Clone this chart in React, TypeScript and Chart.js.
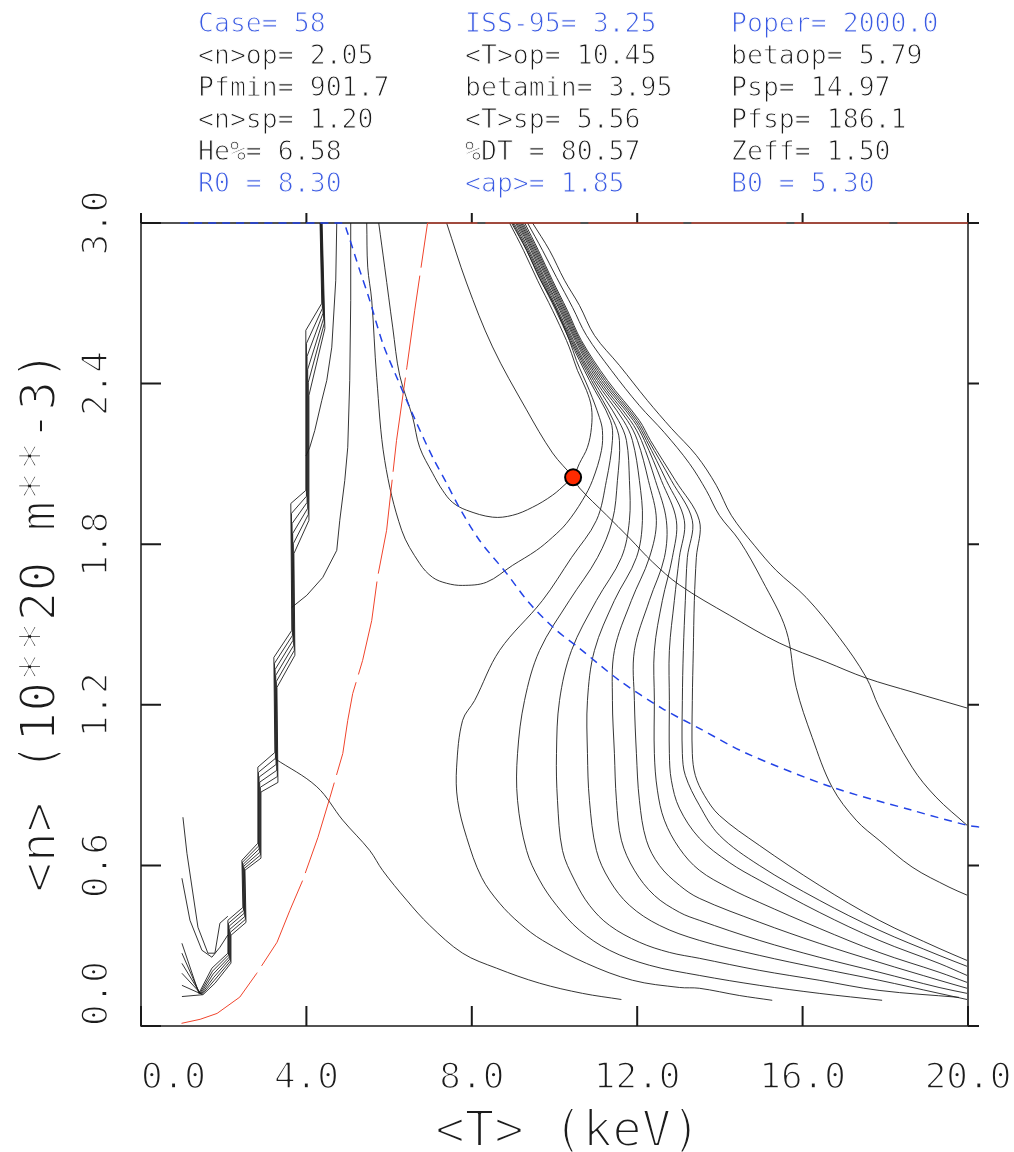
import React, { useEffect, useRef } from 'react';
import { Chart, registerables } from 'chart.js';

Chart.register(...registerables);

type Pt = [number, number];

// ---- axes ----
const xTickValues = [0, 4, 8, 12, 16, 20];
const xTickLabels = ['0.0', '4.0', '8.0', '12.0', '16.0', '20.0'];
const yTickValues = [0, 0.6, 1.2, 1.8, 2.4, 3.0];
const yTickLabels = ['0.0', '0.6', '1.2', '1.8', '2.4', '3.0'];
const xTitle = '<T> (keV)';
const yTitle = '<n> (10**20 m**-3)';

// ---- run summary printed above the plot (3 columns, 6 rows) ----
const headerCol1 = ['Case= 58', '<n>op= 2.05', 'Pfmin= 901.7', '<n>sp= 1.20', 'He%= 6.58', 'R0 = 8.30'];
const headerCol2 = ['ISS-95= 3.25', '<T>op= 10.45', 'betamin= 3.95', '<T>sp= 5.56', '%DT = 80.57', '<ap>= 1.85'];
const headerCol3 = ['Poper= 2000.0', 'betaop= 5.79', 'Psp= 14.97', 'Pfsp= 186.1', 'Zeff= 1.50', 'B0 = 5.30'];
const headerBlueRows = [0, 5];

// ---- operating point ----
const operatingPoint: Pt = [10.45, 2.05];

// ---- left staircase bundle (T keV, n 1e20 m^-3) ----
const stepContour0: Pt[] = [[0.99, 0.309], [1.40, 0.122], [1.715, 0.216], [2.101, 0.272], [2.101, 0.395], [2.464, 0.443], [2.440, 0.619], [2.826, 0.683], [2.826, 0.967], [3.237, 1.022], [3.213, 1.377], [3.647, 1.478], [3.623, 1.952], [3.986, 2.001], [3.986, 2.599], [4.372, 2.700], [4.33, 3.0]];
const stepContour1: Pt[] = [[0.99, 0.272], [1.42, 0.121], [1.730, 0.205], [2.116, 0.265], [2.116, 0.384], [2.479, 0.432], [2.455, 0.612], [2.841, 0.672], [2.841, 0.948], [3.252, 1.000], [3.228, 1.355], [3.662, 1.459], [3.638, 1.915], [4.001, 1.979], [4.001, 2.550], [4.387, 2.681], [4.34, 3.0]];
const stepContour2: Pt[] = [[0.99, 0.234], [1.44, 0.120], [1.745, 0.194], [2.131, 0.257], [2.131, 0.373], [2.494, 0.421], [2.470, 0.604], [2.856, 0.661], [2.856, 0.930], [3.267, 0.977], [3.243, 1.332], [3.677, 1.441], [3.653, 1.877], [4.016, 1.956], [4.016, 2.502], [4.402, 2.663], [4.35, 3.0]];
const stepContour3: Pt[] = [[0.99, 0.197], [1.46, 0.119], [1.760, 0.182], [2.146, 0.250], [2.146, 0.361], [2.509, 0.409], [2.485, 0.597], [2.871, 0.649], [2.871, 0.911], [3.282, 0.955], [3.258, 1.310], [3.692, 1.422], [3.668, 1.840], [4.031, 1.934], [4.031, 2.453], [4.417, 2.644], [4.36, 3.0]];
const stepContour4: Pt[] = [[0.99, 0.152], [1.48, 0.118], [1.775, 0.171], [2.161, 0.242], [2.161, 0.350], [2.524, 0.398], [2.500, 0.589], [2.886, 0.638], [2.886, 0.892], [3.297, 0.932], [3.273, 1.287], [3.707, 1.403], [3.683, 1.802], [4.046, 1.911], [4.046, 2.405], [4.432, 2.625], [4.37, 3.0]];
const stepContour5: Pt[] = [[0.99, 0.110], [1.50, 0.117], [1.790, 0.160], [2.176, 0.235], [2.176, 0.339], [2.539, 0.387], [2.515, 0.582], [2.901, 0.627], [2.901, 0.874], [3.312, 0.910], [3.288, 1.265], [3.722, 1.385], [3.698, 1.765], [4.061, 1.889], [4.061, 2.356], [4.447, 2.606], [4.38, 3.0]];
const lowLoopA: Pt[] = [[1.014, 0.780], [1.111, 0.645], [1.377, 0.369], [1.618, 0.272], [1.787, 0.272], [1.908, 0.384], [2.10, 0.41]];
const lowLoopB: Pt[] = [[0.990, 0.552], [1.184, 0.395], [1.473, 0.283], [1.715, 0.257], [1.908, 0.294], [2.10, 0.34]];
const branchA: Pt[] = [[4.734, 3.0], [4.710, 2.786], [4.614, 2.536], [4.493, 2.412], [4.372, 2.337], [4.203, 2.225], [4.082, 2.162], [3.99, 2.13]];
const branchB: Pt[] = [[3.647, 1.564], [4.010, 1.609], [4.396, 1.676], [4.734, 1.777], [4.807, 1.889], [4.928, 2.038], [5.000, 2.162], [5.048, 2.412], [5.072, 2.711], [5.072, 3.0]];
const lowerArc: Pt[] = [[3.237, 0.999], [4.251, 0.894], [4.879, 0.769], [5.531, 0.656], [5.845, 0.581], [6.425, 0.470], [6.981, 0.376], [7.778, 0.272], [8.599, 0.216], [9.638, 0.160], [10.676, 0.122], [11.618, 0.099]];

// ---- contours around the operating point ----
const valleyContour: Pt[] = [[5.459, 3.0], [5.483, 2.835], [5.580, 2.711], [5.700, 2.423], [5.894, 2.113], [6.304, 1.852], [6.739, 1.728], [7.053, 1.676], [7.391, 1.654], [7.778, 1.646], [8.357, 1.658], [8.986, 1.721], [9.565, 1.777], [9.952, 1.826], [10.290, 1.878], [10.676, 1.964], [10.918, 2.038], [11.135, 2.150], [11.159, 2.225], [11.087, 2.273], [10.845, 2.374], [10.531, 2.486], [10.362, 2.561], [10.000, 2.692], [9.638, 2.793], [9.324, 2.898], [8.961, 3.0]];
const opContour: Pt[] = [[5.749, 3.0], [5.894, 2.835], [6.087, 2.611], [6.256, 2.431], [6.570, 2.274], [6.739, 2.162], [7.053, 2.065], [7.295, 2.001], [7.536, 1.956], [7.874, 1.927], [8.502, 1.901], [8.986, 1.908], [9.469, 1.938], [9.952, 1.983], [10.290, 2.028], [10.45, 2.05], [10.604, 2.102], [10.797, 2.162], [10.894, 2.236], [10.894, 2.311], [10.773, 2.375], [10.556, 2.449], [10.411, 2.513], [10.290, 2.561], [9.952, 2.674], [9.589, 2.786], [9.251, 2.898], [8.913, 3.0]];
const crossContour: Pt[] = [[7.391, 3.0], [7.874, 2.776], [8.502, 2.537], [9.324, 2.302], [9.952, 2.141], [10.45, 2.05], [10.604, 2.010], [11.256, 1.909], [11.812, 1.823], [12.367, 1.734], [13.019, 1.648], [14.227, 1.535], [15.435, 1.431], [16.570, 1.360], [17.536, 1.300], [18.647, 1.248], [19.976, 1.188]];

// ---- nested family peeling off the dense band ----
const fanContour1: Pt[] = [[8.99, 3.0], [9.33, 2.898], [9.67, 2.786], [10.03, 2.674], [10.37, 2.561], [10.845, 2.412], [11.353, 2.262], [11.401, 2.188], [11.256, 2.038], [11.014, 1.889], [10.411, 1.750], [9.710, 1.590], [8.671, 1.403], [8.068, 1.216], [7.778, 1.142], [7.633, 0.967], [7.657, 0.843], [7.874, 0.705], [8.237, 0.555], [8.671, 0.459], [9.155, 0.384], [9.710, 0.320], [10.773, 0.234], [11.884, 0.171], [13.019, 0.144], [13.502, 0.141], [14.469, 0.114], [15.266, 0.096]];
const fanContour2: Pt[] = [[9.02, 3.0], [9.36, 2.898], [9.70, 2.786], [10.06, 2.674], [10.40, 2.561], [10.894, 2.412], [11.425, 2.262], [11.570, 2.188], [11.522, 2.038], [11.401, 1.889], [11.039, 1.750], [10.362, 1.590], [9.638, 1.403], [9.275, 1.216], [9.106, 1.018], [9.106, 0.843], [9.324, 0.656], [9.638, 0.545], [10.048, 0.451], [10.604, 0.358], [11.329, 0.283], [12.295, 0.227], [13.502, 0.189], [14.952, 0.152], [16.401, 0.122], [17.923, 0.096]];
const fanContour3: Pt[] = [[9.06, 3.0], [9.39, 2.898], [9.73, 2.786], [10.09, 2.674], [10.43, 2.561], [10.942, 2.412], [11.546, 2.262], [11.739, 2.188], [11.812, 2.038], [11.812, 1.889], [11.618, 1.750], [11.014, 1.590], [10.411, 1.403], [10.121, 1.216], [10.048, 1.018], [10.072, 0.843], [10.193, 0.656], [10.483, 0.545], [10.845, 0.451], [11.329, 0.376], [12.053, 0.313], [12.778, 0.275], [13.502, 0.253], [14.952, 0.208], [16.401, 0.171], [17.850, 0.133], [19.783, 0.107]];
const fanContour4: Pt[] = [[9.09, 3.0], [9.43, 2.898], [9.76, 2.786], [10.13, 2.674], [10.46, 2.561], [10.990, 2.412], [11.667, 2.262], [11.884, 2.188], [12.053, 2.038], [12.126, 1.889], [11.981, 1.750], [11.449, 1.590], [10.966, 1.403], [10.797, 1.216], [10.797, 1.018], [10.845, 0.843], [11.014, 0.656], [11.329, 0.545], [11.812, 0.451], [12.536, 0.376], [13.502, 0.320], [14.952, 0.264], [16.401, 0.216], [17.850, 0.171], [19.300, 0.122], [19.976, 0.099]];
const fanContour5: Pt[] = [[9.12, 3.0], [9.46, 2.898], [9.79, 2.786], [10.16, 2.674], [10.50, 2.561], [11.039, 2.412], [11.763, 2.262], [12.005, 2.188], [12.271, 2.038], [12.464, 1.889], [12.295, 1.750], [11.860, 1.590], [11.449, 1.403], [11.401, 1.216], [11.449, 1.018], [11.498, 0.843], [11.618, 0.694], [11.932, 0.582], [12.415, 0.488], [13.019, 0.425], [13.502, 0.395], [14.952, 0.320], [16.401, 0.257], [17.850, 0.201], [19.300, 0.144], [19.976, 0.122]];
const fanContour6: Pt[] = [[9.15, 3.0], [9.49, 2.898], [9.83, 2.786], [10.19, 2.674], [10.53, 2.561], [11.087, 2.412], [11.836, 2.262], [12.101, 2.188], [12.440, 2.038], [12.705, 1.889], [12.657, 1.750], [12.295, 1.590], [11.932, 1.403], [11.932, 1.216], [11.981, 1.018], [12.053, 0.843], [12.222, 0.694], [12.536, 0.600], [13.019, 0.526], [13.502, 0.477], [14.952, 0.388], [16.401, 0.309], [17.850, 0.238], [19.300, 0.171], [19.976, 0.141]];
const fanContour7: Pt[] = [[9.18, 3.0], [9.52, 2.898], [9.86, 2.786], [10.22, 2.674], [10.56, 2.561], [11.135, 2.412], [11.908, 2.262], [12.174, 2.188], [12.585, 2.038], [12.947, 1.889], [12.850, 1.750], [12.609, 1.590], [12.415, 1.403], [12.415, 1.216], [12.415, 1.018], [12.488, 0.881], [12.657, 0.769], [13.019, 0.664], [13.502, 0.582], [14.227, 0.515], [14.952, 0.462], [16.401, 0.365], [17.850, 0.275], [19.300, 0.201], [19.976, 0.163]];
const fanContour8: Pt[] = [[9.21, 3.0], [9.55, 2.898], [9.89, 2.786], [10.25, 2.674], [10.59, 2.561], [11.184, 2.412], [11.957, 2.262], [12.222, 2.188], [12.705, 2.038], [13.140, 1.889], [13.019, 1.750], [12.899, 1.590], [12.778, 1.403], [12.778, 1.216], [12.778, 1.018], [12.826, 0.918], [13.019, 0.814], [13.502, 0.702], [14.227, 0.611], [14.952, 0.545], [16.401, 0.425], [17.850, 0.320], [19.300, 0.234], [19.976, 0.189]];
const fanContour9: Pt[] = [[9.24, 3.0], [9.58, 2.898], [9.92, 2.786], [10.28, 2.674], [10.62, 2.561], [11.232, 2.412], [12.005, 2.262], [12.271, 2.188], [12.826, 2.038], [13.333, 1.889], [13.213, 1.750], [13.164, 1.590], [13.116, 1.403], [13.092, 1.216], [13.092, 1.018], [13.164, 0.936], [13.502, 0.825], [13.986, 0.713], [14.952, 0.600], [16.401, 0.470], [17.850, 0.358], [19.300, 0.264], [19.976, 0.223]];
const fanContour10: Pt[] = [[9.28, 3.0], [9.61, 2.898], [9.95, 2.786], [10.31, 2.674], [10.65, 2.561], [11.280, 2.412], [12.053, 2.262], [12.319, 2.188], [12.923, 2.038], [13.502, 1.889], [13.430, 1.750], [13.382, 1.590], [13.357, 1.403], [13.333, 1.216], [13.333, 1.018], [13.406, 0.936], [13.623, 0.862], [13.986, 0.787], [14.952, 0.675], [16.401, 0.526], [17.850, 0.395], [19.300, 0.290], [19.976, 0.245]];
const outerContour1: Pt[] = [[9.348, 3.0], [9.710, 2.898], [10.048, 2.797], [10.435, 2.685], [10.773, 2.580], [11.377, 2.449], [12.053, 2.318], [12.657, 2.217], [13.261, 2.102], [13.671, 2.001], [13.986, 1.908], [14.469, 1.814], [15.024, 1.665], [15.604, 1.478], [15.845, 1.265], [16.232, 1.078], [16.715, 0.892], [17.295, 0.769], [17.850, 0.694], [18.647, 0.594], [19.541, 0.519], [19.976, 0.489]];
const outerContour2: Pt[] = [[9.469, 3.0], [9.879, 2.898], [10.242, 2.786], [10.604, 2.692], [10.966, 2.580], [11.570, 2.468], [12.246, 2.337], [12.826, 2.233], [13.430, 2.132], [13.913, 2.020], [14.275, 1.908], [14.831, 1.796], [15.362, 1.702], [16.087, 1.601], [16.884, 1.452], [17.536, 1.303], [17.850, 1.191], [18.647, 0.967], [19.227, 0.855], [19.976, 0.750]];

// ---- coloured boundaries ----
const redCurve: Pt[] = [[0.98, 0.01], [1.43, 0.025], [1.84, 0.047], [2.39, 0.108], [2.80, 0.197], [3.29, 0.313], [3.60, 0.432], [3.91, 0.544], [4.28, 0.705], [4.57, 0.854], [4.88, 1.018], [5.00, 1.142], [5.12, 1.242], [5.36, 1.366], [5.58, 1.515], [5.72, 1.676], [5.94, 1.852], [6.18, 2.188], [6.43, 2.461], [6.62, 2.674], [6.93, 3.0], [20.0, 3.0]];
const blueCurve: Pt[] = [[0.95, 3.0], [4.88, 3.0], [4.976, 2.972], [5.290, 2.823], [5.531, 2.711], [5.845, 2.551], [6.184, 2.424], [6.667, 2.252], [7.053, 2.125], [7.391, 2.028], [7.705, 1.935], [8.188, 1.814], [8.841, 1.691], [9.396, 1.579], [10.048, 1.478], [10.604, 1.411], [11.570, 1.291], [12.609, 1.186], [13.502, 1.112], [14.638, 1.019], [16.715, 0.892], [18.647, 0.806], [19.976, 0.750], [20.27, 0.743]];

// straight-segment contours (grid-stepped) and smooth ones
const steppedContours: Pt[][] = [
  stepContour0, stepContour1, stepContour2, stepContour3, stepContour4, stepContour5,
  lowLoopA, lowLoopB, branchA, branchB,
];
const smoothContours: Pt[][] = [
  lowerArc, valleyContour, opContour, crossContour,
  fanContour1, fanContour2, fanContour3, fanContour4, fanContour5,
  fanContour6, fanContour7, fanContour8, fanContour9, fanContour10,
  outerContour1, outerContour2,
];

const MONO = '"DejaVu Sans Mono", "Liberation Mono", monospace';
const BLUE_TEXT = '#3b5be3';
const DARK_TEXT = '#1c1c1c';
const CONTOUR = 'rgba(25,25,25,0.88)';

function thinText(
  ctx: CanvasRenderingContext2D,
  text: string,
  x: number,
  y: number,
  size: number,
  color: string,
  erode: number,
  align: CanvasTextAlign,
) {
  ctx.font = `${size}px ${MONO}`;
  ctx.textAlign = align;
  ctx.textBaseline = 'alphabetic';
  ctx.fillStyle = color;
  ctx.fillText(text, x, y);
  if (erode > 0) {
    // trim the glyph edges so the strokes read as a fine plotter pen
    ctx.lineJoin = 'round';
    ctx.lineWidth = erode;
    ctx.strokeStyle = '#ffffff';
    ctx.strokeText(text, x, y);
  }
}

const framePlugin = {
  id: 'popconFrame',
  beforeDatasetsDraw(chart: any) {
    const { ctx, chartArea: a, scales } = chart;
    const xs = scales.x;
    const ys = scales.y;
    ctx.save();
    ctx.strokeStyle = '#1a1a1a';
    ctx.lineWidth = 1.5;
    ctx.strokeRect(a.left, a.top, a.right - a.left, a.bottom - a.top);
    ctx.lineWidth = 2;
    ctx.beginPath();
    xTickValues.forEach((v) => {
      const px = xs.getPixelForValue(v);
      ctx.moveTo(px, a.bottom);
      ctx.lineTo(px, a.bottom - 20);
      ctx.moveTo(px, a.top);
      ctx.lineTo(px, a.top - 10);
    });
    yTickValues.forEach((v) => {
      const py = ys.getPixelForValue(v);
      ctx.moveTo(a.left, py);
      ctx.lineTo(a.left + 20, py);
      ctx.moveTo(a.right, py);
      ctx.lineTo(a.right + 11, py);
    });
    ctx.stroke();
    ctx.restore();
  },
  afterDraw(chart: any) {
    const { ctx, chartArea: a, scales } = chart;
    const xs = scales.x;
    const ys = scales.y;
    ctx.save();

    // header block
    const colX = [198, 465, 731];
    const cols = [headerCol1, headerCol2, headerCol3];
    cols.forEach((col, ci) => {
      col.forEach((txt, ri) => {
        const color = headerBlueRows.includes(ri) ? BLUE_TEXT : DARK_TEXT;
        thinText(ctx, txt, colX[ci], 32 + ri * 32, 26.5, color, 1.0, 'left');
      });
    });

    // x tick labels
    xTickLabels.forEach((lab, i) => {
      const px = xs.getPixelForValue(xTickValues[i]);
      thinText(ctx, lab, px, 1088, 36, DARK_TEXT, 1.5, i === 0 ? 'left' : 'center');
    });

    // y tick labels (rotated)
    yTickLabels.forEach((lab, i) => {
      const py = ys.getPixelForValue(yTickValues[i]);
      ctx.save();
      ctx.translate(107, py);
      ctx.rotate(-Math.PI / 2);
      thinText(ctx, lab, 0, 0, 36, DARK_TEXT, 1.5, i === 0 ? 'left' : 'center');
      ctx.restore();
    });

    // axis titles
    thinText(ctx, xTitle, 568, 1146, 49, DARK_TEXT, 2.2, 'center');
    ctx.save();
    ctx.translate(55, (a.top + a.bottom) / 2 - 3);
    ctx.rotate(-Math.PI / 2);
    thinText(ctx, yTitle, 0, 0, 50, DARK_TEXT, 2.0, 'center');
    ctx.restore();

    ctx.restore();
  },
};

const toXY = (pts: Pt[]) => pts.map(([x, y]) => ({ x, y }));

export default function App() {
  const canvasRef = useRef<HTMLCanvasElement | null>(null);

  useEffect(() => {
    const canvas = canvasRef.current;
    if (!canvas) return;

    const lineSet = (pts: Pt[], color: string, width: number, dash: number[] = [], tension = 0) => ({
      data: toXY(pts),
      showLine: true,
      pointRadius: 0,
      borderColor: color,
      borderWidth: width,
      borderDash: dash,
      tension,
      fill: false,
      clip: false,
    });

    const datasets: any[] = [
      {
        data: toXY([operatingPoint]),
        showLine: false,
        pointRadius: 8,
        pointBackgroundColor: '#ff2a00',
        pointBorderColor: '#000000',
        pointBorderWidth: 2,
        clip: false,
      },
      lineSet(blueCurve, '#2343e6', 1.5, [8, 6], 0.3),
      lineSet(redCurve, '#f0442c', 1, [95, 8], 0),
      ...steppedContours.map((c) => lineSet(c, CONTOUR, 1)),
      ...smoothContours.map((c) => lineSet(c, CONTOUR, 1, [], 0.35)),
    ];

    const chart = new Chart(canvas, {
      type: 'scatter',
      data: { datasets },
      options: {
        responsive: false,
        animation: false,
        events: [],
        layout: { padding: { left: 141, top: 223, right: 46, bottom: 126 } },
        plugins: {
          legend: { display: false },
          tooltip: { enabled: false },
        },
        scales: {
          x: { type: 'linear', min: 0, max: 20, display: false },
          y: { type: 'linear', min: 0, max: 3, display: false },
        },
      },
      plugins: [framePlugin],
    });

    return () => chart.destroy();
  }, []);

  return (
    <div style={{ position: 'absolute', left: 0, top: 0, width: 1014, height: 1152, background: '#ffffff' }}>
      <canvas ref={canvasRef} width={1014} height={1152} style={{ display: 'block' }} />
    </div>
  );
}
